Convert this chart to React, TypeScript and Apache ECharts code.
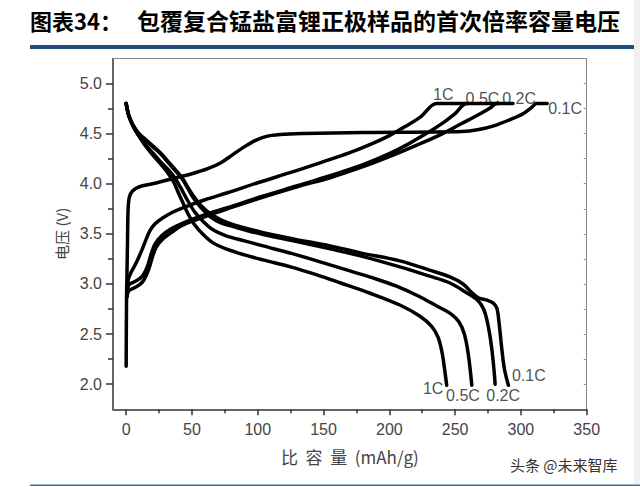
import React, { useEffect, useRef } from "react";
import * as echarts from "echarts";

// ---- data (specific capacity mAh/g, voltage V) ----
const charge1C: number[][] = [[0.5,2.87],[1.5,3.04],[3.5,3.11],[6,3.17],[9,3.25],[12,3.34],[15,3.44],[18,3.53],[22,3.6],[28,3.66],[36,3.72],[45,3.77],[60,3.84],[77,3.91],[100,4.01],[127,4.12],[150,4.22],[170,4.31],[187,4.4],[200,4.48],[212,4.57],[224,4.67],[236,4.8],[260,4.8]];
const charge05C: number[][] = [[0.5,2.87],[2,2.99],[6,3.02],[10,3.05],[13,3.09],[16,3.17],[19,3.3],[22,3.4],[27,3.48],[33,3.54],[42,3.6],[51,3.65],[64,3.71],[77,3.76],[100,3.86],[130,3.98],[155,4.08],[180,4.19],[200,4.3],[215,4.4],[228,4.5],[240,4.6],[250,4.7],[259,4.8],[283,4.8]];
const charge02C: number[][] = [[0.5,2.87],[2,2.93],[6,2.96],[10,2.99],[13.5,3.04],[17,3.14],[20,3.27],[23,3.37],[28,3.45],[34,3.51],[42,3.58],[51,3.63],[64,3.69],[77,3.75],[100,3.85],[130,3.97],[155,4.06],[180,4.17],[200,4.27],[220,4.38],[239,4.49],[255,4.6],[268,4.69],[276,4.75],[282,4.8],[294,4.8]];
const charge01C: number[][] = [[0,2.18],[0.3,2.87],[0.6,3.09],[1,3.4],[1.5,3.75],[2.5,3.87],[5,3.93],[10,3.97],[20,4.0],[35,4.05],[50,4.1],[62,4.15],[72,4.21],[81,4.29],[90,4.37],[98,4.43],[106,4.47],[117,4.49],[135,4.5],[180,4.51],[255,4.52],[268,4.54],[280,4.58],[292,4.64],[302,4.7],[308,4.76],[312,4.8],[320,4.8]];

const discharge1C: number[][] = [[0,4.8],[2,4.68],[5,4.58],[9,4.49],[14,4.39],[20,4.29],[26,4.2],[31,4.12],[36,4.02],[40,3.9],[43.5,3.8],[47,3.7],[52,3.59],[58,3.5],[66,3.41],[76,3.35],[90,3.29],[104,3.24],[125,3.17],[145,3.09],[163,3.01],[185,2.91],[208,2.79],[223,2.68],[232,2.58],[237,2.47],[240,2.32],[242,2.15],[243.6,1.99]];
const discharge05C: number[][] = [[0,4.8],[2,4.68],[5,4.58],[9,4.49],[14,4.4],[20,4.31],[26,4.22],[32,4.14],[37,4.06],[41,3.97],[46,3.85],[52,3.72],[58,3.63],[66,3.54],[76,3.48],[90,3.43],[104,3.38],[127,3.3],[150,3.21],[170,3.13],[190,3.05],[205,2.98],[222,2.88],[236,2.78],[247,2.7],[253,2.62],[257,2.5],[260,2.3],[262.7,1.99]];
const discharge02C: number[][] = [[0,4.8],[2,4.68],[5,4.59],[9,4.51],[14,4.44],[20,4.37],[26,4.3],[32,4.21],[38,4.12],[43,4.04],[47,3.95],[51,3.86],[57,3.76],[64,3.67],[72,3.61],[82,3.57],[102,3.5],[127,3.43],[155,3.35],[178,3.28],[208,3.17],[230,3.08],[246,3.01],[259,2.91],[266,2.85],[270,2.79],[273,2.7],[276,2.52],[278,2.34],[279.5,2.15],[280.4,2.0]];
const discharge01C: number[][] = [[0,4.8],[2,4.68],[5,4.59],[9,4.51],[14,4.45],[20,4.38],[26,4.31],[32,4.22],[38,4.13],[43,4.05],[47,3.96],[51,3.88],[57,3.78],[64,3.7],[72,3.64],[82,3.59],[102,3.52],[127,3.45],[155,3.38],[178,3.31],[208,3.23],[230,3.14],[246,3.07],[256,3.0],[263,2.91],[268,2.86],[274,2.84],[279,2.81],[281.7,2.76],[283.5,2.6],[285.5,2.35],[287.5,2.15],[290.5,1.99]];

const chargeLabels: (number | string)[][] = [[241,4.89,"1C"],[270.8,4.85,"0.5C"],[298.6,4.85,"0.2C"],[333.6,4.75,"0.1C"]];
const dischargeLabels: (number | string)[][] = [[233.3,1.96,"1C"],[256,1.89,"0.5C"],[286.5,1.89,"0.2C"],[306,2.09,"0.1C"]];

const xTicks = [0, 50, 100, 150, 200, 250, 300, 350];
const xMinorTicks = [25, 75, 125, 175, 225, 275, 325];
const yTicks = [2.0, 2.5, 3.0, 3.5, 4.0, 4.5, 5.0];
const yMinorTicks = [2.25, 2.75, 3.25, 3.75, 4.25, 4.75];

const titleLabel = "图表34：";
const titleText = "包覆复合锰盐富锂正极样品的首次倍率容量电压";
const xName = "比  容  量  (mAh/g)";
const yName = "电压 (V)";
const watermark = "头条 @未来智库";

const X_MIN = -10, X_MAX = 350, Y_MIN = 1.75, Y_MAX = 5.25;
const numFont = "'Liberation Sans', Arial, sans-serif";
const cjkFont = "'Noto Sans CJK SC', sans-serif";

export default function App() {
  const ref = useRef<HTMLDivElement>(null);
  useEffect(() => {
    if (!ref.current) return;
    const chart = echarts.init(ref.current, null, { renderer: "svg" });
    const curves = [charge1C, charge05C, charge02C, charge01C, discharge1C, discharge05C, discharge02C, discharge01C];
    const axisDark = { color: "#333", width: 1.5 };
    const baseX = { type: "value", min: X_MIN, max: X_MAX, splitLine: { show: false } };
    const baseY = { type: "value", min: Y_MIN, max: Y_MAX, splitLine: { show: false } };
    chart.setOption({
      animation: false,
      backgroundColor: "#fff",
      grid: { left: 113, right: 53.3, top: 58.4, bottom: 77.7, containLabel: false, outerBoundsMode: "none" },
      xAxis: [
        {
          ...baseX, position: "bottom",
          axisLine: { show: true, onZero: false, lineStyle: axisDark },
          axisTick: { show: true, customValues: xTicks, length: 6, lineStyle: axisDark },
          axisLabel: { customValues: xTicks, color: "#444", fontSize: 16, margin: 12, fontFamily: numFont },
          name: xName, nameLocation: "middle", nameGap: 39,
          nameTextStyle: { color: "#444", fontSize: 17, fontFamily: cjkFont },
        },
        {
          ...baseX, position: "bottom",
          axisLine: { show: false, onZero: false },
          axisTick: { show: true, customValues: xMinorTicks, length: 4, lineStyle: axisDark },
          axisLabel: { show: false },
        },
        {
          ...baseX, position: "top",
          axisLine: { show: true, onZero: false, lineStyle: { color: "#888", width: 1 } },
          axisTick: { show: false },
          axisLabel: { show: false },
        },
      ],
      yAxis: [
        {
          ...baseY, position: "left",
          axisLine: { show: true, onZero: false, lineStyle: axisDark },
          axisTick: { show: true, customValues: yTicks, length: 7, lineStyle: axisDark },
          axisLabel: { customValues: yTicks, color: "#444", fontSize: 16, margin: 11, fontFamily: numFont, formatter: (v: number) => v.toFixed(1) },
          name: yName, nameLocation: "middle", nameGap: 31, nameRotate: 90,
          nameTextStyle: { color: "#444", fontSize: 15, fontFamily: cjkFont },
        },
        {
          ...baseY, position: "left",
          axisLine: { show: false, onZero: false },
          axisTick: { show: true, customValues: yMinorTicks, length: 5, lineStyle: axisDark },
          axisLabel: { show: false },
        },
        {
          ...baseY, position: "right",
          axisLine: { show: true, onZero: false, lineStyle: { color: "#888", width: 1 } },
          axisTick: { show: true, inside: true, customValues: [...yTicks, ...yMinorTicks], length: 3, lineStyle: { color: "#999", width: 1 } },
          axisLabel: { show: false },
        },
      ],
      series: [
        ...curves.map((d) => ({
          type: "line",
          data: d,
          xAxisIndex: 0,
          yAxisIndex: 0,
          symbol: "none",
          showSymbol: false,
          smooth: 0.35,
          silent: true,
          lineStyle: { color: "#000", width: 3.5, join: "round", cap: "round" },
        })),
        {
          type: "scatter",
          data: [...chargeLabels, ...dischargeLabels],
          xAxisIndex: 0,
          yAxisIndex: 0,
          symbolSize: 1,
          itemStyle: { color: "rgba(0,0,0,0)" },
          silent: true,
          label: {
            show: true, position: "inside", color: "#222", fontSize: 16, fontFamily: numFont,
            formatter: (p: any) => p.data[2],
          },
        },
      ],
      graphic: [
        { type: "text", left: 30, top: 9, style: { text: titleLabel, font: `bold 22px ${cjkFont}`, fill: "#000" } },
        { type: "text", left: 137, top: 8, style: { text: titleText, font: `bold 23px ${cjkFont}`, fill: "#000" } },
        { type: "rect", shape: { x: 30, y: 45, width: 610, height: 4 }, style: { fill: "#1f4e7a" } },
        { type: "rect", shape: { x: 30, y: 484.5, width: 610, height: 1.5 }, style: { fill: "#3d6fa3" } },
        { type: "rect", shape: { x: 634, y: 0, width: 6, height: 484 }, style: { fill: "#f0f0f0" } },
        { type: "text", left: 510, top: 457, style: { text: watermark, font: `15px ${cjkFont}`, fill: "#333" } },
      ],
    });
    return () => chart.dispose();
  }, []);
  return <div ref={ref} style={{ position: "fixed", left: 0, top: 0, width: 640, height: 487 }} />;
}
